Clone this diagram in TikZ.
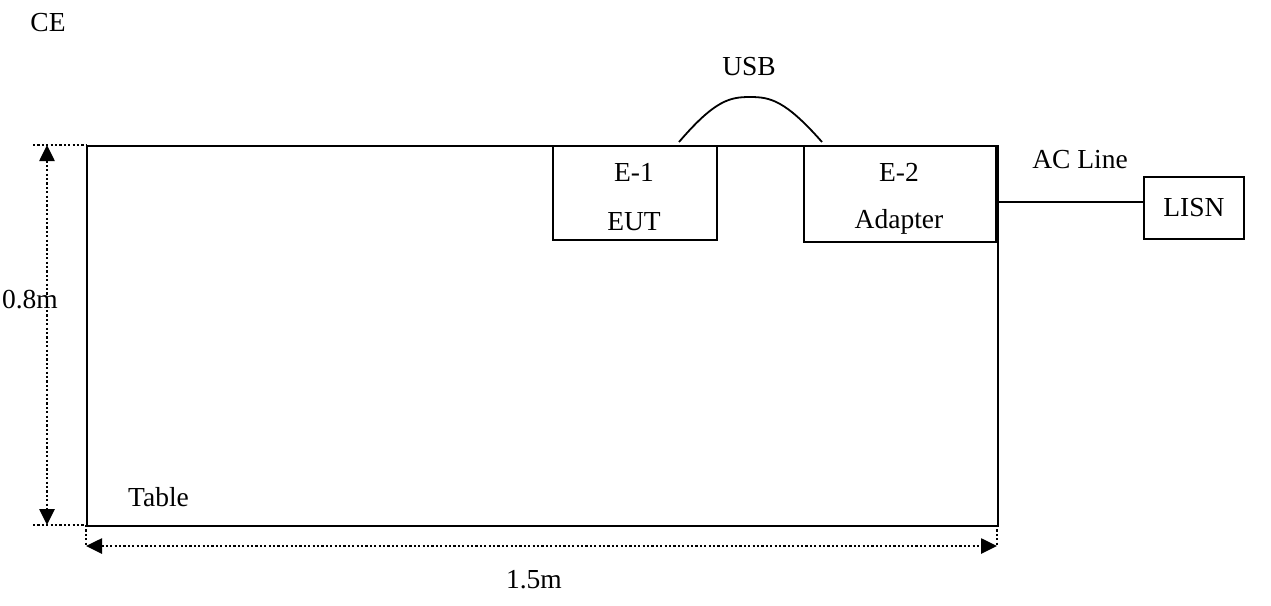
\documentclass[tikz,border=0pt]{standalone}
\usepackage{fontspec}
\setmainfont{Liberation Serif}
\usetikzlibrary{arrows.meta}
\begin{document}
\begin{tikzpicture}[x=1pt,y=-1pt,
  every node/.style={font=\fontsize{27.5}{32}\selectfont,inner sep=0pt},
  box/.style={draw,line width=2pt,rectangle,anchor=north west},
  dimline/.style={line width=2.6pt,dash pattern=on 2.2pt off 2.2pt},
  dimarrow/.style={dimline,{Triangle[length=16pt,width=15pt]}-{Triangle[length=16pt,width=15pt]}},
  wire/.style={line width=1.8pt}]
\useasboundingbox (0,0) rectangle (1271,605);
% table
\node[box,line width=2.2pt,minimum width=911pt,minimum height=380pt] (table) at (86,145) {};
\node[anchor=west] (tablelbl) at (128,497) {Table};
% equipment
\node[box,minimum width=164pt,minimum height=94pt] (eut) at (552,145) {};
\node (eut1) at (634,172) {E-1};
\node (eut2) at (634,222) {EUT};
\node[box,minimum width=192pt,minimum height=96pt] (adp) at (803,145) {};
\node (adp1) at (899,172) {E-2};
\node (adp2) at (899,222) {Adapter};
\node[box,line width=1.8pt,minimum width=100pt,minimum height=62pt] (lisn) at (1143,176) {LISN};
% USB cable
\coordinate (u1) at (679,142);
\coordinate (u2) at (822,142);
\draw[wire] (u1) .. controls (715,100) and (730,97) .. (750,97) .. controls (770,97) and (785,100) .. (u2);
\node (usb) at (749,67) {USB};
% AC line
\draw[wire] (table.east |- 0,202) -- (lisn.west |- 0,202);
\node (acl) at (1080,160) {AC Line};
% CE
\node (ce) at (48,23) {CE};
% dimensions
\coordinate (tl) at (33,145);
\coordinate (bl) at (33,525);
\draw[dimline] (tl) -- (table.north west |- tl);
\draw[dimline] (bl) -- (table.south west |- bl);
\coordinate (vt) at (47,145);
\coordinate (vb) at (47,525);
\draw[dimarrow] (vt) -- (vb);
\node (h) at (30,300) {0.8m};
\coordinate (hl) at (86,546);
\coordinate (hr) at (997,546);
\draw[dimline] (hl |- bl) -- (hl);
\draw[dimline] (hr |- bl) -- (hr);
\draw[dimarrow] (hl) -- (hr);
\node (w) at (534,580) {1.5m};
\end{tikzpicture}
\end{document}
